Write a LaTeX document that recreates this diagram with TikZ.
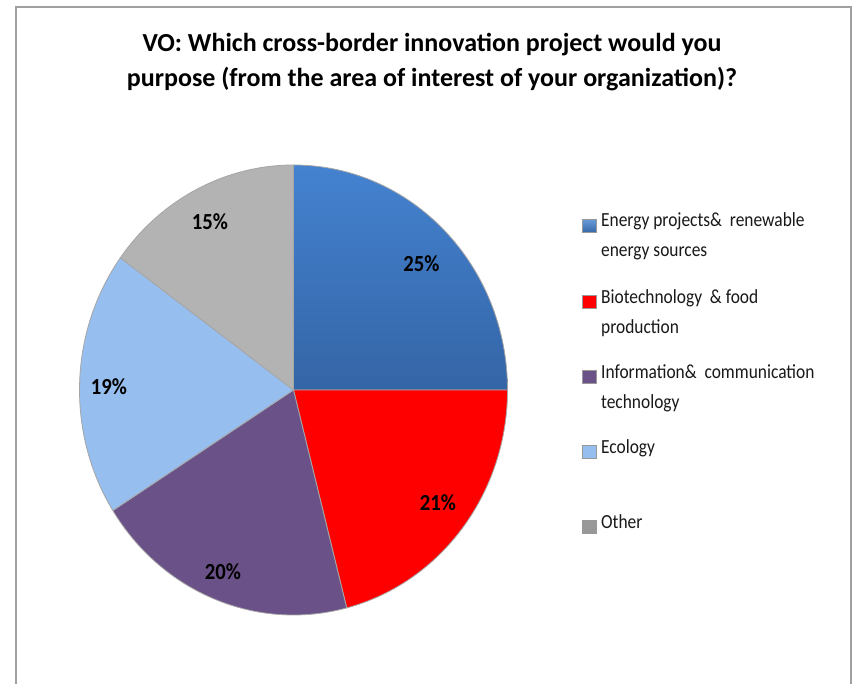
\documentclass[tikz,border=0pt]{standalone}
\usepackage{fontspec}
\setmainfont{Carlito}
\definecolor{cblue}{HTML}{4482D0}
\definecolor{cbluedark}{HTML}{3465A6}
\definecolor{cred}{HTML}{FF0000}
\definecolor{cpurple}{HTML}{6A5187}
\definecolor{clblue}{HTML}{96BEEE}
\definecolor{cgray}{HTML}{B3B3B3}
\definecolor{cframe}{HTML}{A0A0A0}
\tikzset{
  slice/.style={draw=black!35, line width=0.8pt, line join=round},
  pct/.style={font=\fontsize{23}{26}\selectfont\bfseries, text=black, xscale=0.9, transform shape},
  legbox/.style={minimum size=13.5pt, inner sep=0pt, draw=black!40, line width=0.5pt},
  legtext/.style={font=\fontsize{20}{30}\selectfont, anchor=north west, align=left, inner sep=0pt, text=black!90, xscale=0.87, transform shape},
}
\begin{document}
\begin{tikzpicture}[x=1pt,y=-1pt]
\useasboundingbox (0,0) rectangle (855,684);
\fill[white] (0,0) rectangle (855,684);
\draw[cframe, line width=2pt] (16,690) -- (16,7) -- (851,7) -- (851,690);
% title
\node[font=\fontsize{26}{35}\selectfont\bfseries, align=center] (title) at (432,62)
  {VO: Which cross-border innovation project would you\\purpose (from the area of interest of your organization)?};
% pie
\begin{scope}[shift={(293.5,390)}]
  \shade[slice, top color=cblue, bottom color=cbluedark] (0,0) -- (-90:214 and 225) arc[start angle=-90, end angle=0, x radius=214, y radius=225] -- cycle;
  \fill[slice, fill=cred] (0,0) -- (0:214 and 225) arc[start angle=0, end angle=75.6, x radius=214, y radius=225] -- cycle;
  \fill[slice, fill=cpurple] (0,0) -- (75.6:214 and 225) arc[start angle=75.6, end angle=147.6, x radius=214, y radius=225] -- cycle;
  \fill[slice, fill=clblue] (0,0) -- (147.6:214 and 225) arc[start angle=147.6, end angle=216, x radius=214, y radius=225] -- cycle;
  \fill[slice, fill=cgray] (0,0) -- (216:214 and 225) arc[start angle=216, end angle=270, x radius=214, y radius=225] -- cycle;
\end{scope}
\node[pct] (p25) at (421.5,264) {25\%};
\node[pct] (p21) at (438,503) {21\%};
\node[pct] (p20) at (223,572) {20\%};
\node[pct] (p19) at (109,387) {19\%};
\node[pct] (p15) at (210,222) {15\%};
% legend
\node[legbox, shade, top color=cblue!80, bottom color=cbluedark] (b1) at (589,226) {};
\node[legbox, fill=cred] (b2) at (589,302) {};
\node[legbox, fill=cpurple] (b3) at (589,377) {};
\node[legbox, fill=clblue] (b4) at (589,452) {};
\node[legbox, fill=cgray!85!black] (b5) at (589,527) {};
\node[legtext] (l1) at (601,212) {Energy projects\& \ renewable\\energy sources};
\node[legtext] (l2) at (601,289) {Biotechnology \ \& food\\production};
\node[legtext] (l3) at (601,364) {Information\& \ communication\\technology};
\node[legtext] (l4) at (601,439) {Ecology};
\node[legtext] (l5) at (601,514) {Other};
\end{tikzpicture}
\end{document}
